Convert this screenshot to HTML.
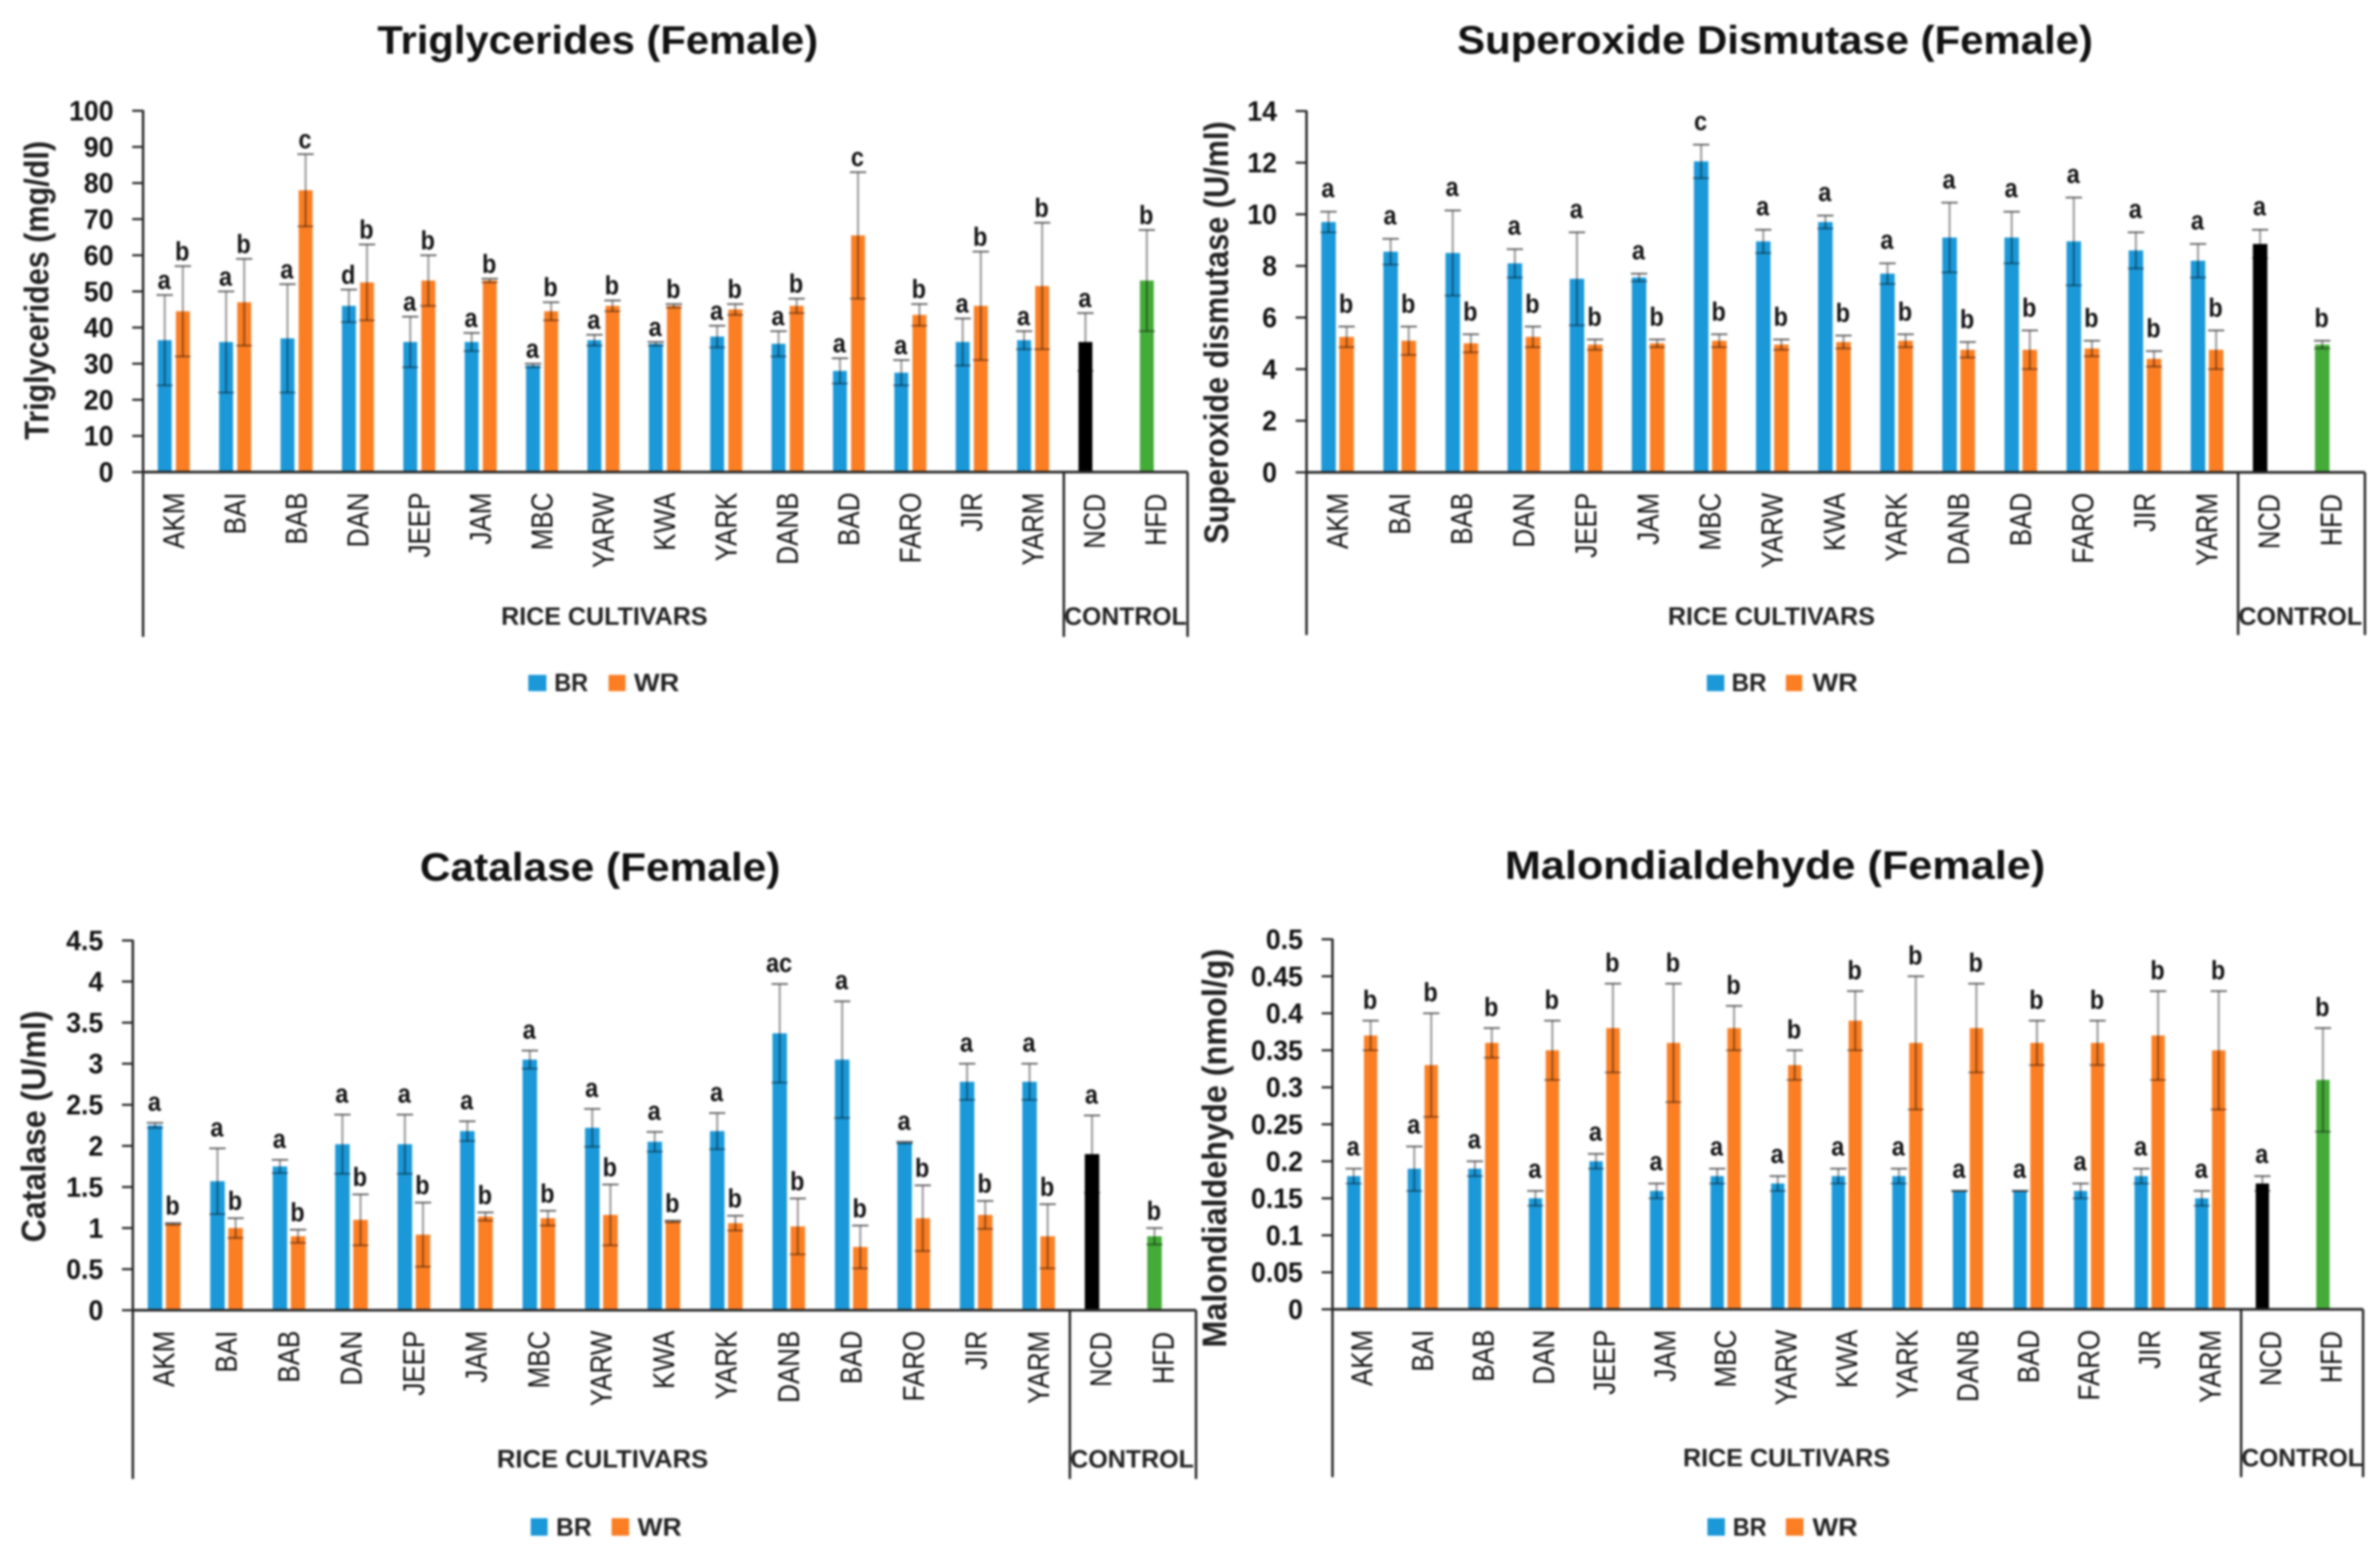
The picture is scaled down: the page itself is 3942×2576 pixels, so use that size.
<!DOCTYPE html>
<html lang="en">
<head>
<meta charset="utf-8">
<title>Female rice cultivar biomarkers</title>
<style>
html,body{margin:0;padding:0;background:#fff;width:3942px;height:2576px;overflow:hidden}
svg{display:block;filter:blur(1.8px)}
text{font-family:"Liberation Sans",Arial,sans-serif;fill:#111}
.title{font-size:66px;font-weight:700;text-anchor:middle}
.ytitle{font-size:57px;font-weight:700;text-anchor:middle;fill:#222}
.group{font-size:42px;font-weight:700;text-anchor:middle;fill:#222}
.leg{font-size:42px;font-weight:700;fill:#222}
</style>
</head>
<body>
<svg id="figure" xmlns="http://www.w3.org/2000/svg" width="3942" height="2576" viewBox="0 0 3942 2576">
<rect x="0" y="0" width="3942" height="2576" fill="#fff"/>

<g id="chart-tg">
<text class="title" x="990" y="89" textLength="730" lengthAdjust="spacingAndGlyphs">Triglycerides (Female)</text>
<text class="ytitle" transform="translate(80,481) rotate(-90)" textLength="495" lengthAdjust="spacingAndGlyphs">Triglycerides (mg/dl)</text>
<text class="group" x="1001" y="1035" textLength="342" lengthAdjust="spacingAndGlyphs">RICE CULTIVARS</text>
<text class="group" x="1864" y="1035" textLength="203" lengthAdjust="spacingAndGlyphs">CONTROL</text>
<rect x="875" y="1118" width="30" height="27" fill="#1b98d8"/>
<text class="leg" x="918" y="1145" textLength="56" lengthAdjust="spacingAndGlyphs">BR</text>
<rect x="1008" y="1118" width="28" height="27" fill="#fb7e23"/>
<text class="leg" x="1050" y="1145" textLength="75" lengthAdjust="spacingAndGlyphs">WR</text>
</g>

<g id="chart-sod">
<text class="title" x="2940" y="89" textLength="1053" lengthAdjust="spacingAndGlyphs">Superoxide Dismutase (Female)</text>
<text class="ytitle" transform="translate(2034,551) rotate(-90)" textLength="700" lengthAdjust="spacingAndGlyphs">Superoxide dismutase  (U/ml)</text>
<text class="group" x="2934" y="1035" textLength="343" lengthAdjust="spacingAndGlyphs">RICE CULTIVARS</text>
<text class="group" x="3810" y="1035" textLength="205" lengthAdjust="spacingAndGlyphs">CONTROL</text>
<rect x="2827" y="1118" width="29" height="27" fill="#1b98d8"/>
<text class="leg" x="2868" y="1145" textLength="58" lengthAdjust="spacingAndGlyphs">BR</text>
<rect x="2958" y="1118" width="27" height="27" fill="#fb7e23"/>
<text class="leg" x="3002" y="1145" textLength="75" lengthAdjust="spacingAndGlyphs">WR</text>
</g>

<g id="chart-cat">
<text class="title" x="994" y="1459" textLength="597" lengthAdjust="spacingAndGlyphs">Catalase (Female)</text>
<text class="ytitle" transform="translate(75,1866) rotate(-90)" textLength="384" lengthAdjust="spacingAndGlyphs">Catalase  (U/ml)</text>
<text class="group" x="998" y="2431" textLength="350" lengthAdjust="spacingAndGlyphs">RICE CULTIVARS</text>
<text class="group" x="1875" y="2431" textLength="205" lengthAdjust="spacingAndGlyphs">CONTROL</text>
<rect x="879" y="2515" width="28" height="29" fill="#1b98d8"/>
<text class="leg" x="921" y="2544" textLength="59" lengthAdjust="spacingAndGlyphs">BR</text>
<rect x="1013" y="2515" width="29" height="29" fill="#fb7e23"/>
<text class="leg" x="1056" y="2544" textLength="73" lengthAdjust="spacingAndGlyphs">WR</text>
</g>

<g id="chart-mda">
<text class="title" x="2940" y="1456" textLength="895" lengthAdjust="spacingAndGlyphs">Malondialdehyde (Female)</text>
<text class="ytitle" transform="translate(2031,1902) rotate(-90)" textLength="661" lengthAdjust="spacingAndGlyphs">Malondialdehyde  (nmol/g)</text>
<text class="group" x="2959" y="2429" textLength="343" lengthAdjust="spacingAndGlyphs">RICE CULTIVARS</text>
<text class="group" x="3813" y="2429" textLength="201" lengthAdjust="spacingAndGlyphs">CONTROL</text>
<rect x="2828" y="2515" width="29" height="29" fill="#1b98d8"/>
<text class="leg" x="2870" y="2544" textLength="56" lengthAdjust="spacingAndGlyphs">BR</text>
<rect x="2958" y="2515" width="29" height="29" fill="#fb7e23"/>
<text class="leg" x="3002" y="2544" textLength="75" lengthAdjust="spacingAndGlyphs">WR</text>
</g>
</svg>

<script>
const cultivars = ["AKM","BAI","BAB","DAN","JEEP","JAM","MBC","YARW","KWA","YARK","DANB","BAD","FARO","JIR","YARM"];
const controls = ["NCD","HFD"];

const tgTicks = ["0","10","20","30","40","50","60","70","80","90","100"];
const tgBr = [36.5,36,37,46,36,36,29.5,36.5,35.5,37.5,35.5,28,27.5,36,36.5];
const tgBrUpper = [49,50,52,50.5,43,38.5,30,38,36,40.5,39,31.5,31,42.5,39];
const tgWr = [44.5,47,78,52.5,53,53,44.5,46,46,45,46,65.5,43.5,46,51.5];
const tgWrUpper = [57,59,88,63,60,53.5,47,47.5,46.5,46.5,48,83,46.5,61,69];
const tgControl = [36,53];
const tgControlUpper = [44,67];
const tgBrLetters = ["a","a","a","d","a","a","a","a","a","a","a","a","a","a","a"];
const tgWrLetters = ["b","b","c","b","b","b","b","b","b","b","b","c","b","b","b"];
const tgControlLetters = ["a","b"];

const sodTicks = ["0","2","4","6","8","10","12","14"];
const sodBr = [9.7,8.55,8.5,8.1,7.5,7.55,12.05,8.95,9.7,7.7,9.1,9.1,8.95,8.6,8.2];
const sodBrUpper = [10.1,9.05,10.15,8.65,9.3,7.7,12.7,9.4,9.95,8.1,10.45,10.1,10.65,9.3,8.85];
const sodWr = [5.25,5.1,5,5.25,4.95,5,5.1,4.95,5.05,5.1,4.75,4.75,4.8,4.4,4.75];
const sodWrUpper = [5.65,5.65,5.35,5.65,5.15,5.15,5.35,5.15,5.3,5.35,5.05,5.5,5.1,4.7,5.5];
const sodControl = [8.85,4.95];
const sodControlUpper = [9.4,5.1];
const sodBrLetters = ["a","a","a","a","a","a","c","a","a","a","a","a","a","a","a"];
const sodWrLetters = ["b","b","b","b","b","b","b","b","b","b","b","b","b","b","b"];
const sodControlLetters = ["a","b"];

const catTicks = ["0","0.5","1","1.5","2","2.5","3","3.5","4","4.5"];
const catBr = [2.25,1.57,1.75,2.02,2.02,2.18,3.05,2.22,2.05,2.18,3.37,3.05,2.04,2.78,2.78];
const catBrUpper = [2.28,1.97,1.83,2.38,2.38,2.3,3.16,2.45,2.17,2.4,3.97,3.76,2.05,3,3];
const catWr = [1.05,1,0.9,1.1,0.92,1.14,1.12,1.16,1.08,1.06,1.02,0.77,1.12,1.16,0.9];
const catWrUpper = [1.06,1.12,0.98,1.41,1.31,1.19,1.21,1.53,1.09,1.15,1.36,1.03,1.52,1.33,1.29];
const catControl = [1.9,0.9];
const catControlUpper = [2.37,1];
const catBrLetters = ["a","a","a","a","a","a","a","a","a","a","ac","a","a","a","a"];
const catWrLetters = ["b","b","b","b","b","b","b","b","b","b","b","b","b","b","b"];
const catControlLetters = ["a","b"];

const mdaTicks = ["0","0.05","0.1","0.15","0.2","0.25","0.3","0.35","0.4","0.45","0.5"];
const mdaBr = [0.18,0.19,0.19,0.15,0.2,0.16,0.18,0.17,0.18,0.18,0.16,0.16,0.16,0.18,0.15];
const mdaBrUpper = [0.19,0.22,0.2,0.16,0.21,0.17,0.19,0.18,0.19,0.19,0.16,0.16,0.17,0.19,0.16];
const mdaWr = [0.37,0.33,0.36,0.35,0.38,0.36,0.38,0.33,0.39,0.36,0.38,0.36,0.36,0.37,0.35];
const mdaWrUpper = [0.39,0.4,0.38,0.39,0.44,0.44,0.41,0.35,0.43,0.45,0.44,0.39,0.39,0.43,0.43];
const mdaControl = [0.17,0.31];
const mdaControlUpper = [0.18,0.38];
const mdaBrLetters = ["a","a","a","a","a","a","a","a","a","a","a","a","a","a","a"];
const mdaWrLetters = ["b","b","b","b","b","b","b","b","b","b","b","b","b","b","b"];
const mdaControlLetters = ["a","b"];

const SVG_NS = "http://www.w3.org/2000/svg";
const BLUE = "#1b98d8", ORANGE = "#fb7e23", BLACK = "#000000", GREEN = "#44aa38";

function make(parent, tag, name) {
  const el = document.createElementNS(SVG_NS, tag);
  
  
  parent.appendChild(el);
  return el;
}
function line(parent, name, x1, y1, x2, y2, color, w, opacity) {
  const el = make(parent, "line", name);
  el.setAttribute("x1", x1); el.setAttribute("y1", y1);
  el.setAttribute("x2", x2); el.setAttribute("y2", y2);
  el.setAttribute("stroke", color); el.setAttribute("stroke-width", w);
  if (opacity) el.setAttribute("stroke-opacity", opacity);
  return el;
}
function rect(parent, name, x, y, w, h, color) {
  const el = make(parent, "rect", name);
  el.setAttribute("x", x); el.setAttribute("y", y);
  el.setAttribute("width", w); el.setAttribute("height", h);
  el.setAttribute("fill", color);
  return el;
}
function label(parent, name, str, x, y, size, weight, anchor, transform) {
  const el = make(parent, "text", name);
  el.textContent = str;
  el.setAttribute("font-size", size);
  el.setAttribute("font-weight", weight);
  el.setAttribute("text-anchor", anchor);
  el.setAttribute("transform", "translate(" + x + "," + y + ") " + transform);
  return el;
}

function drawChart(cfg) {
  const g = document.getElementById(cfg.id);
  const band = (cfg.sep - cfg.axisX) / 15;
  const maxV = parseFloat(cfg.ticks[cfg.ticks.length - 1]);
  const xCenter = function (i) { return cfg.axisX + band * (i + 0.5) + cfg.shift; };
  const yScale = function (v) { return cfg.y0 - (v / maxV) * (cfg.y0 - cfg.yTop); };

  function bar(name, cx, value, upper, color, letter, gap) {
    rect(g, "bar-" + name, cx - cfg.barW / 2, yScale(value), cfg.barW, cfg.y0 - yScale(value), color);
    const lower = value - (upper - value);
    line(g, "error-stem-" + name, cx, yScale(upper), cx, yScale(lower), "#000", 3.5, 0.38);
    line(g, "error-cap-top-" + name, cx - 13.5, yScale(upper), cx + 13.5, yScale(upper), "#444", 3, 0.8);
    line(g, "error-cap-bottom-" + name, cx - 13.5, yScale(lower), cx + 13.5, yScale(lower), "#000", 3, 0.4);
    label(g, "significance-" + name, letter, cx - 1, yScale(upper) - gap, 44, 700, "middle", "scale(0.88,1)");
  }

  cultivars.forEach(function (c, i) {
    const cx = xCenter(i);
    bar(c + "-br", cx - cfg.off, cfg.br[i], cfg.brUpper[i], BLUE, cfg.brLetters[i], cfg.gapBr);
    bar(c + "-wr", cx + cfg.off, cfg.wr[i], cfg.wrUpper[i], ORANGE, cfg.wrLetters[i], cfg.gapWr);
    label(g, "category-label-" + c, c, cx + 17, cfg.y0 + 34, 50, 400, "end", "rotate(-90) scale(0.86,1)");
  });
  controls.forEach(function (c, i) {
    const cx = xCenter(15 + i);
    bar(c, cx - cfg.off, cfg.control[i], cfg.controlUpper[i], i === 0 ? BLACK : GREEN, cfg.controlLetters[i], i === 0 ? cfg.gapBr : cfg.gapWr);
    label(g, "category-label-" + c, c, cx + 17, cfg.y0 + 36, 50, 400, "end", "rotate(-90) scale(0.84,1)");
  });

  cfg.ticks.forEach(function (t) {
    const v = parseFloat(t);
    line(g, "y-tick-" + t, cfg.axisX - 18, yScale(v), cfg.axisX, yScale(v), "#222", 3.5);
    label(g, "y-tick-label-" + t, t, cfg.axisX - 49, yScale(v) + 16, 46, 700, "end", "scale(0.96,1)");
  });

  line(g, "y-axis-line", cfg.axisX, cfg.yTop - 1, cfg.axisX, cfg.bottom, "#222", 4);
  line(g, "x-axis-line", cfg.axisX, cfg.y0, cfg.right, cfg.y0, "#2a2a2a", 4.5);
  line(g, "group-separator", cfg.sep, cfg.y0, cfg.sep, cfg.bottom, "#222", 4);
  line(g, "right-border", cfg.right, cfg.y0, cfg.right, cfg.bottom, "#222", 4);
}

drawChart({id:"chart-tg", axisX:237, sep:1762, right:1967, y0:782, yTop:183.5, bottom:1055, barW:23, off:15, shift:0, gapBr:10, gapWr:10,
  ticks:tgTicks, br:tgBr, brUpper:tgBrUpper, wr:tgWr, wrUpper:tgWrUpper, control:tgControl, controlUpper:tgControlUpper,
  brLetters:tgBrLetters, wrLetters:tgWrLetters, controlLetters:tgControlLetters});
drawChart({id:"chart-sod", axisX:2164, sep:3707, right:3917, y0:782.5, yTop:184, bottom:1052, barW:24, off:15, shift:0, gapBr:24, gapWr:23,
  ticks:sodTicks, br:sodBr, brUpper:sodBrUpper, wr:sodWr, wrUpper:sodWrUpper, control:sodControl, controlUpper:sodControlUpper,
  brLetters:sodBrLetters, wrLetters:sodWrLetters, controlLetters:sodControlLetters});
drawChart({id:"chart-cat", axisX:220, sep:1772, right:1981, y0:2170.5, yTop:1558, bottom:2450, barW:24, off:15, shift:0, gapBr:20, gapWr:14,
  ticks:catTicks, br:catBr, brUpper:catBrUpper, wr:catWr, wrUpper:catWrUpper, control:catControl, controlUpper:catControlUpper,
  brLetters:catBrLetters, wrLetters:catWrLetters, controlLetters:catControlLetters});
drawChart({id:"chart-mda", axisX:2207, sep:3712, right:3914, y0:2169, yTop:1556, bottom:2447, barW:22, off:14, shift:-1, gapBr:22, gapWr:20,
  ticks:mdaTicks, br:mdaBr, brUpper:mdaBrUpper, wr:mdaWr, wrUpper:mdaWrUpper, control:mdaControl, controlUpper:mdaControlUpper,
  brLetters:mdaBrLetters, wrLetters:mdaWrLetters, controlLetters:mdaControlLetters});
</script>
</body>
</html>
